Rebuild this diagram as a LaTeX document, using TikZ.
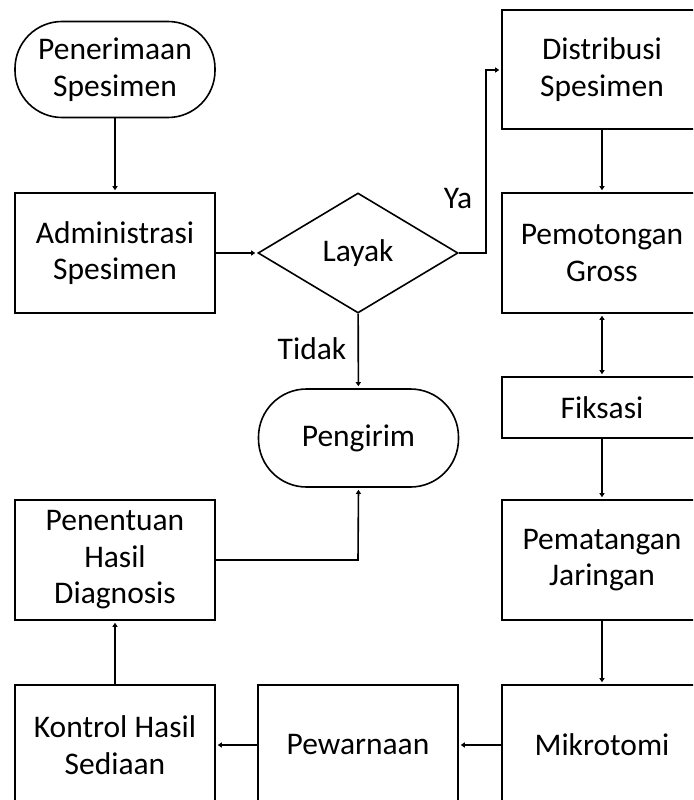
\documentclass[tikz,border=0pt]{standalone}
\usepackage{fontspec}
\setmainfont{Carlito}
\usetikzlibrary{
    arrows.meta,
    shapes.geometric,
    positioning
}

\tikzset{
    proc/.style={draw, line width=1.6pt, minimum width=200pt, minimum height=120pt, align=center, inner sep=0pt},
    term/.style={draw, line width=1.6pt, rounded corners=47pt, minimum width=200pt, minimum height=96pt, align=center, inner sep=0pt},
    cond/.style={draw, line width=1.6pt, diamond, minimum width=200pt, minimum height=120pt, inner sep=0pt},
    flow/.style={line width=1.6pt, -{Triangle[length=4pt,width=5pt]}, shorten >=2pt},
    every node/.style={font=\fontsize{31.5}{36.5}\selectfont}
}

\begin{document}
\begin{tikzpicture}[x=1pt, y=-1pt]
                            \useasboundingbox (0, 0) rectangle (693, 800);
                            \clip (0, 0) rectangle (693, 800);
                            \node[term] (pen) at (115, 69.5) {Penerimaan\\Spesimen};
                            \node[proc] (adm) at (115, 253) {Administrasi\\Spesimen};
                            \node[cond] (layak) at (358, 253) {Layak};
                            \node[term, minimum height=98pt, rounded corners=48pt] (krm) at (358.5, 438) {Pengirim};
                            \node[proc, minimum height=119pt] (dist) at (602, 69.5) {Distribusi\\Spesimen};
                            \node[proc] (pot) at (602, 253) {Pemotongan\\Gross};
                            \node[proc, minimum height=61pt] (fik) at (602, 407.5) {Fiksasi};
                            \node[proc] (pemat) at (602, 560) {Pematangan\\Jaringan};
                            \node[proc] (mik) at (602, 745) {Mikrotomi};
                            \node[proc] (pew) at (358, 745) {Pewarnaan};
                            \node[proc] (kon) at (115, 745) {Kontrol Hasil\\Sediaan};
                            \node[proc] (ptn) at (115, 560) {Penentuan\\Hasil\\Diagnosis};
                            \node (ya) at (458, 199) {Ya};
                            \node (tidak) at (312, 349) {Tidak};
                            \coordinate (yaup) at (486, 70);
                            \coordinate (ptnr) at (358, 560);
                            \draw[flow] (pen) -- (adm);
                            \draw[flow] (adm) -- (layak);
                            \draw[flow] (layak.east) -| (yaup) -- (dist.west |- yaup);
                            \draw[flow] (layak) -- (krm);
                            \draw[flow] (dist) -- (pot);
                            \draw[flow, {Triangle[length=4pt,width=5pt]}-{Triangle[length=4pt,width=5pt]}, shorten <=2pt] (pot) -- (fik);
                            \draw[flow] (fik) -- (pemat);
                            \draw[flow] (pemat) -- (mik);
                            \draw[flow] (mik) -- (pew);
                            \draw[flow] (pew) -- (kon);
                            \draw[flow] (kon) -- (ptn);
                            \draw[flow] (ptn.east) -- (ptnr) -- (krm.south);
                        \end{tikzpicture}
\end{document}
